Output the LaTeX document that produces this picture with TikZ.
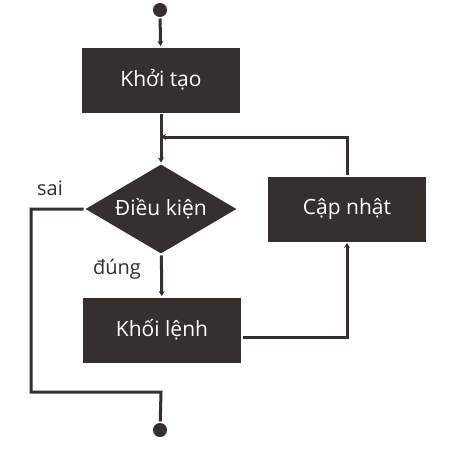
\documentclass[tikz,border=0pt]{standalone}
\usepackage{fontspec}
\setmainfont{Open Sans}
\usepackage{tikz}
\usetikzlibrary{arrows.meta,shapes.geometric}

\definecolor{ink}{HTML}{352F2D}

\begin{document}
\begin{tikzpicture}[x=1pt,y=-1pt,
  line width=3pt, draw=ink,
  >={Stealth[length=5pt,width=6pt]},
  box/.style={rectangle, fill=ink, text=white, minimum width=158pt, minimum height=65pt,
    font=\fontsize{21}{24}\selectfont},
  cond/.style={diamond, shape aspect=1.69, fill=ink, text=white, inner sep=0pt,
    minimum width=152pt, minimum height=90pt, font=\fontsize{21}{24}\selectfont},
  dot/.style={circle, fill=ink, inner sep=0pt, minimum size=14pt},
  lbl/.style={text=ink, font=\fontsize{20}{24}\selectfont}]
  \useasboundingbox (0,0) rectangle (453,453);
  \node[dot] (start) at (160,10) {};
  \node[box] (init) at (161,80) {Khởi tạo};
  \node[cond] (test) at (161,209) {Điều kiện};
  \node[box] (update) at (347,209) {Cập nhật};
  \node[box] (body) at (162,330) {Khối lệnh};
  \node[dot] (stop) at (160,430) {};
  \coordinate (join) at (161,137);
  \coordinate (left) at (31,209);
  \coordinate (low) at (161,392);
  \path[->, draw=ink]
  (start) edge (init)
  (init) edge (test)
  (test) edge (body)
;
  \draw[->] (update.north) |- (join);
  \draw[->] ([yshift=-7pt]body.east) -| (update.south);
  \draw (test.west) -- (left) |- (low) -- (stop);
  \node[lbl] (no) at (50,188) {sai};
  \node[lbl] (yes) at (117,269) {đúng};
\end{tikzpicture}
\end{document}
